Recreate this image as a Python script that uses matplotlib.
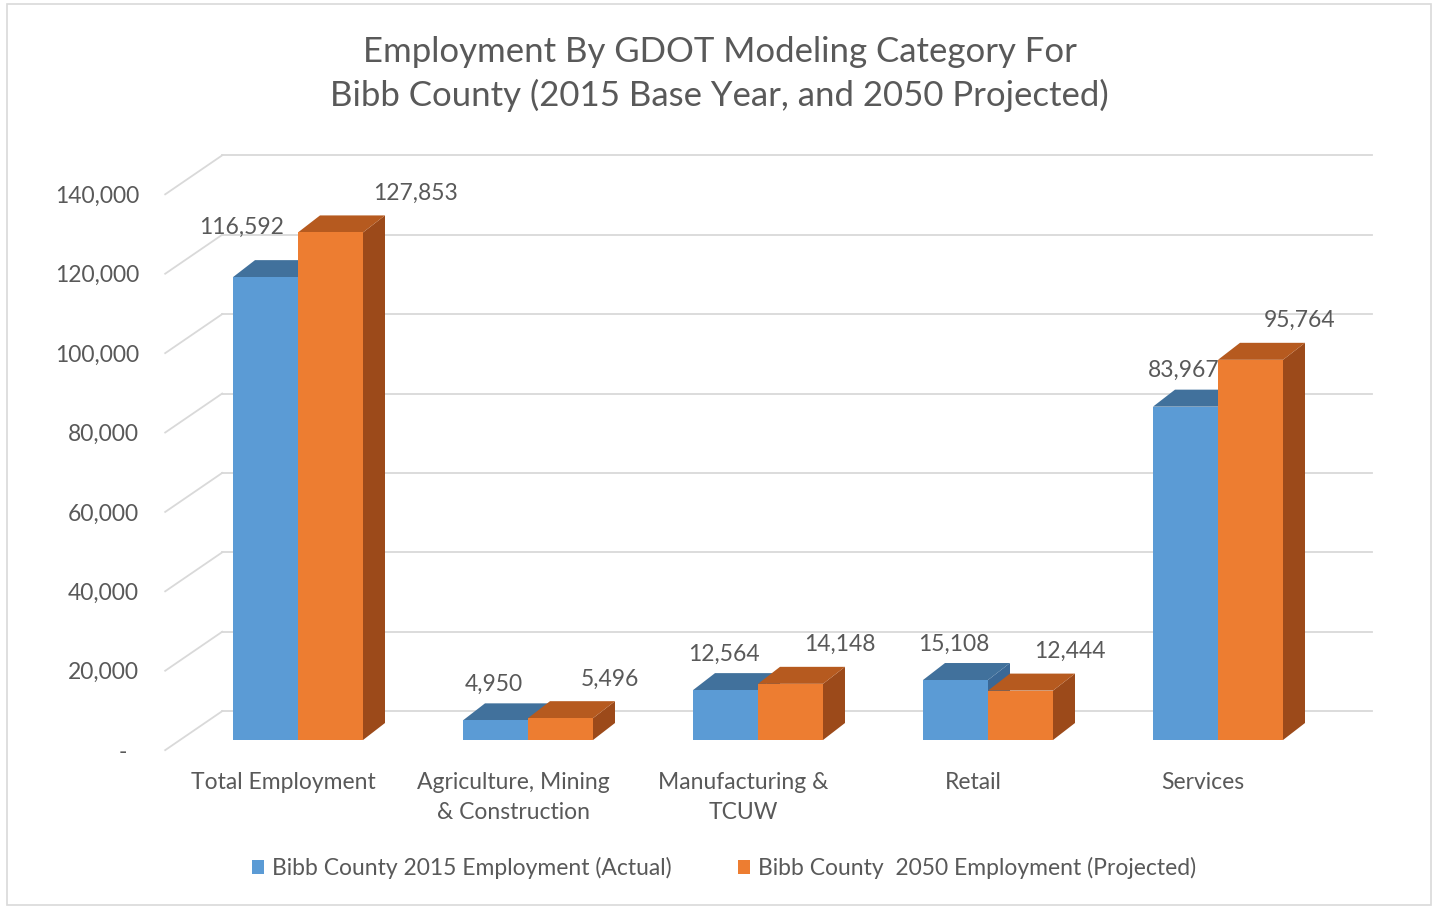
import numpy as np
import matplotlib.pyplot as plt
from matplotlib.patches import Polygon, Rectangle, Patch

plt.rcParams['font.family'] = ['Lato', 'DejaVu Sans']

categories = ["Total Employment", "Agriculture, Mining\n& Construction",
              "Manufacturing &\nTCUW", "Retail", "Services"]
actual_2015 = [116592, 4950, 12564, 15108, 83967]
projected_2050 = [127853, 5496, 14148, 12444, 95764]
tick_values = [0, 20000, 40000, 60000, 80000, 100000, 120000, 140000]
tick_labels = ["-", "20,000", "40,000", "60,000", "80,000", "100,000", "120,000", "140,000"]
series_names = ["Bibb County 2015 Employment (Actual)",
                "Bibb County  2050 Employment (Projected)"]

# pseudo 3d geometry (pixels)
W, H = 1439, 907
PX_CAT = 230.0        # px per category
PX_VAL = 0.00397      # px per employee
X0_PX, Y0_PX = 298, 740   # category 0 centre / zero line on the bar front plane
FLOOR_DX, FLOOR_DY = 57, 39   # full floor depth
D_BAR = 0.26                  # bar front depth
BAR_DX, BAR_DY = 22, 17       # bar depth
bar_w = 65 / PX_CAT
FS = 16.5

text_col = "#595959"
grid_col = "#D9D9D9"
blue = ("#5B9BD5", "#41719C", "#3A6896")
orange = ("#ED7D31", "#B65A1F", "#9C4A1A")

# the tall first pair has its labels pushed apart (as in the original)
first_nudge = {"blue": (-22, 14), "orange": (36, 0)}


def shift(d):
    return (d - D_BAR) * FLOOR_DX / PX_CAT, (d - D_BAR) * FLOOR_DY / PX_VAL


fig = plt.figure(figsize=(W / 100, H / 100), dpi=100)
ax = fig.add_axes([0, 0, 1, 1])
ax.set_xlim(-X0_PX / PX_CAT, (W - X0_PX) / PX_CAT)
ax.set_ylim((Y0_PX - H) / PX_VAL, Y0_PX / PX_VAL)
ax.axis('off')

fig.patches.append(Rectangle((7 / W, 2 / H), 1424 / W, 901 / H, transform=fig.transFigure,
                             fill=False, edgecolor=grid_col, linewidth=1.2))

# back wall gridlines + side diagonals
i_left, i_right = -0.513, 4.487
bx, bv = shift(1)
fx, fv = shift(0)
for v, lab in zip(tick_values, tick_labels):
    ax.plot([i_left + bx, i_right + bx], [v + bv, v + bv], color=grid_col, lw=1.3, zorder=1)
    ax.plot([i_left + fx, i_left + bx], [v + fv, v + bv], color=grid_col, lw=1.3, zorder=1)
    ax.annotate(lab + ("  " if v == 0 else ""), (i_left + fx, v + fv), xytext=(-26, -2),
                textcoords='offset pixels', ha='right', va='center', fontsize=FS, color=text_col)

x = np.arange(len(categories))
ddx, ddv = BAR_DX / PX_CAT, BAR_DY / PX_VAL


def draw_series(xs, vals, cols, z, label_off, nudge):
    ax.bar(xs, vals, width=bar_w, color=cols[0], zorder=z + 0.2)
    for k, (xc, v) in enumerate(zip(xs, vals)):
        x0, x1 = xc - bar_w / 2, xc + bar_w / 2
        top = [(x0, v), (x1, v), (x1 + ddx, v + ddv), (x0 + ddx, v + ddv)]
        side = [(x1, 0), (x1, v), (x1 + ddx, v + ddv), (x1 + ddx, ddv)]
        ax.add_patch(Polygon(side, closed=True, facecolor=cols[2], edgecolor='none', zorder=z))
        ax.add_patch(Polygon(top, closed=True, facecolor=cols[1], edgecolor='none', zorder=z + 0.1))
        off = label_off
        if k == 0:
            off = (label_off[0] + nudge[0], label_off[1] + nudge[1])
        ax.annotate(f"{v:,}", (xc, v), xytext=off, textcoords='offset pixels',
                    ha='center', va='center', fontsize=FS, color=text_col, zorder=10)


draw_series(x - bar_w / 2, actual_2015, blue, 3, (-2, 36), first_nudge["blue"])
draw_series(x + bar_w / 2, projected_2050, orange, 4, (49, 39), first_nudge["orange"])

# category labels
for xc, cat in zip(x, categories):
    ax.annotate(cat, (xc + fx, fv), xytext=(0, -22), textcoords='offset pixels',
                ha='center', va='top', fontsize=FS, color=text_col, linespacing=1.5)

fig.text(0.5, 1 - 74 / H,
         "Employment By GDOT Modeling Category For\nBibb County (2015 Base Year, and 2050 Projected)",
         ha='center', va='center', fontsize=25, color=text_col, linespacing=1.38)

handles = [Patch(facecolor=blue[0]), Patch(facecolor=orange[0])]
fig.legend(handles, series_names, loc='center', bbox_to_anchor=(724 / W, 1 - 868 / H), ncol=2,
           frameon=False, fontsize=FS, handlelength=0.52, handleheight=0.52,
           handletextpad=0.35, columnspacing=2.9, labelcolor=text_col)

fig.savefig("out.png", dpi=100)
